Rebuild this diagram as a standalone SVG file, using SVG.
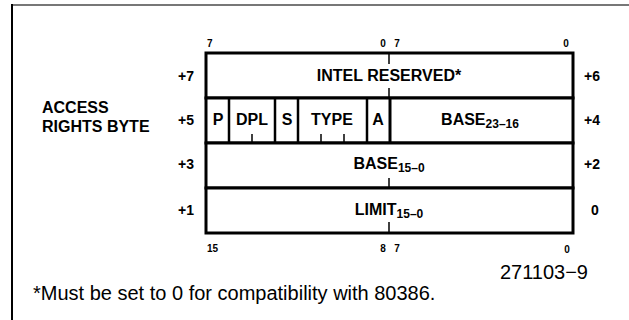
<svg xmlns="http://www.w3.org/2000/svg" width="629" height="320" viewBox="0 0 629 320">
<style>
.b{font-family:"Liberation Sans",Arial,sans-serif;font-weight:bold;fill:#000}
.lab{font-size:14px}
.acc{font-size:16px}
.fld{font-size:16px}
.dig{font-size:10px}
.sub{font-size:12px}
.r{font-family:"Liberation Sans",Arial,sans-serif;fill:#000;font-size:20px}
.box{fill:#fff;stroke:#000;stroke-width:3}
.div{stroke:#000;stroke-width:2.5;fill:none}
.tk{stroke:#000;stroke-width:1.5;fill:none}
</style>
<rect width="629" height="320" fill="#fff"/>
<g id="frame">
<line x1="11" y1="5" x2="629" y2="5" stroke="#777" stroke-width="2"/>
<line x1="12" y1="4" x2="12" y2="320" stroke="#000" stroke-width="2"/>
</g>
<g id="row-intel-reserved">
<rect class="box" x="206" y="53" width="367" height="45"/>
<text class="b fld" x="389" y="81" text-anchor="middle">INTEL RESERVED*</text>
</g>
<g id="row-access-base">
<rect class="box" x="206" y="98" width="367" height="45"/>
<text class="b fld" x="218" y="125" text-anchor="middle">P</text>
<text class="b fld" x="252" y="125" text-anchor="middle">DPL</text>
<text class="b fld" x="287" y="125" text-anchor="middle">S</text>
<text class="b fld" x="332" y="125" text-anchor="middle">TYPE</text>
<text class="b fld" x="378" y="125" text-anchor="middle">A</text>
<text class="b fld" x="480" y="125" text-anchor="middle">BASE<tspan class="sub" dy="3">23–16</tspan></text>
</g>
<g id="row-base-low">
<rect class="box" x="206" y="143" width="367" height="45"/>
<text class="b fld" x="389" y="169" text-anchor="middle">BASE<tspan class="sub" dy="3">15–0</tspan></text>
</g>
<g id="row-limit">
<rect class="box" x="206" y="188" width="367" height="45"/>
<text class="b fld" x="389" y="215" text-anchor="middle">LIMIT<tspan class="sub" dy="3">15–0</tspan></text>
</g>
<g id="connectors">
<line class="div" x1="229" y1="98" x2="229" y2="143"/>
<line class="div" x1="275" y1="98" x2="275" y2="143"/>
<line class="div" x1="298" y1="98" x2="298" y2="143"/>
<line class="div" x1="367" y1="98" x2="367" y2="143"/>
<line class="box" x1="390" y1="98" x2="390" y2="143"/>
<line class="tk" x1="389" y1="53" x2="389" y2="64"/>
<line class="tk" x1="389" y1="88" x2="389" y2="98"/>
<line class="tk" x1="252" y1="134" x2="252" y2="143"/>
<line class="tk" x1="321" y1="134" x2="321" y2="143"/>
<line class="tk" x1="344" y1="134" x2="344" y2="143"/>
<line class="tk" x1="389" y1="178" x2="389" y2="188"/>
<line class="tk" x1="389" y1="222" x2="389" y2="233"/>
</g>
<g id="bit-labels">
<text class="b dig" x="207" y="47">7</text>
<text class="b dig" x="383" y="47" text-anchor="middle">0</text>
<text class="b dig" x="397" y="47" text-anchor="middle">7</text>
<text class="b dig" x="566" y="47" text-anchor="middle">0</text>
<text class="b dig" x="207" y="252">15</text>
<text class="b dig" x="383" y="252" text-anchor="middle">8</text>
<text class="b dig" x="397" y="252" text-anchor="middle">7</text>
<text class="b dig" x="567" y="253" text-anchor="middle">0</text>
</g>
<g id="offset-labels">
<text class="b lab" x="194" y="81" text-anchor="end">+7</text>
<text class="b lab" x="194" y="125" text-anchor="end">+5</text>
<text class="b lab" x="194" y="169" text-anchor="end">+3</text>
<text class="b lab" x="194" y="215" text-anchor="end">+1</text>
<text class="b lab" x="584" y="81">+6</text>
<text class="b lab" x="584" y="125">+4</text>
<text class="b lab" x="584" y="169">+2</text>
<text class="b lab" x="591" y="215">0</text>
</g>
<g id="access-rights-label">
<text class="b acc" x="42" y="113">ACCESS</text>
<text class="b acc" x="42" y="132">RIGHTS BYTE</text>
</g>
<g id="footer">
<text class="r" x="588" y="279" text-anchor="end">271103−9</text>
<text class="r" x="33" y="300">*Must be set to 0 for compatibility with 80386.</text>
</g>
</svg>
